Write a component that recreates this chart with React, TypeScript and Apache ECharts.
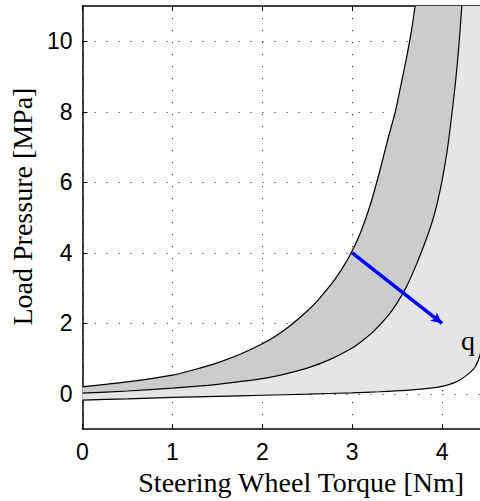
import React, { useEffect, useRef } from 'react';
import * as echarts from 'echarts';

const xTicks = [0, 1, 2, 3, 4];
const yTicks = [0, 2, 4, 6, 8, 10];

const upperCurve: number[][] = [
  [0, 0.2], [0.5, 0.34], [1, 0.53], [1.25, 0.69], [1.5, 0.88], [1.76, 1.13], [2, 1.42],
  [2.15, 1.64], [2.31, 1.93], [2.5, 2.35], [2.6, 2.6], [2.7, 2.9], [2.8, 3.22], [2.9, 3.6],
  [3, 4.05], [3.1, 4.62], [3.2, 5.35], [3.3, 6.25], [3.4, 7.25], [3.48, 8.0], [3.55, 8.85],
  [3.61, 9.6], [3.66, 10.3], [3.7, 11],
];
const middleCurve: number[][] = [
  [0, 0.02], [0.5, 0.08], [1, 0.16], [1.5, 0.27], [2, 0.43], [2.25, 0.56], [2.5, 0.73],
  [2.75, 0.97], [3, 1.3], [3.12, 1.52], [3.24, 1.78], [3.4, 2.22], [3.5, 2.58], [3.6, 3.02],
  [3.7, 3.58], [3.8, 4.22], [3.9, 4.96], [3.95, 5.45], [4.0, 6.05], [4.06, 6.95], [4.11, 7.95],
  [4.15, 8.85], [4.18, 9.65], [4.2, 10.3], [4.22, 11],
];
const lowerCurve: number[][] = [
  [0, -0.18], [0.5, -0.14], [1, -0.1], [1.5, -0.07], [2, -0.04], [2.5, -0.01], [3, 0.03],
  [3.3, 0.06], [3.6, 0.1], [3.87, 0.16], [4, 0.21], [4.13, 0.31], [4.22, 0.43], [4.3, 0.58],
  [4.37, 0.77], [4.42, 1.08], [4.46, 1.6], [4.49, 2.6], [4.51, 5], [4.53, 11],
];
const arrowStart = [3, 4];
const arrowEnd = [4, 2];
const qLabelPos = [4.29, 1.5];

export default function App() {
  const ref = useRef<HTMLDivElement>(null);
  useEffect(() => {
    document.documentElement.style.overflow = 'hidden';
    document.body.style.margin = '0';
    document.body.style.overflow = 'hidden';
    const chart = echarts.init(ref.current!, null, { renderer: 'svg' });
    const serif = '"Liberation Serif", "Times New Roman", serif';
    const sans = '"Liberation Sans", Arial, sans-serif';
    const regions = [
      { points: [...upperCurve, ...middleCurve.slice().reverse()], color: '#cccccc' },
      { points: [...middleCurve, ...lowerCurve.slice().reverse()], color: '#e5e5e5' },
    ];
    const gridLine = { show: true, lineStyle: { color: '#333', width: 1, type: [1.2, 10.8] } };
    const curveSeries = (name: string, data: number[][]) => ({
      name,
      type: 'line',
      data,
      symbol: 'none',
      clip: true,
      smooth: 0.2,
      silent: true,
      z: 3,
      lineStyle: { color: '#000', width: 1.2 },
    });
    const option: any = {
      animation: false,
      grid: { left: 82, top: 6, width: 405, height: 425 },
      xAxis: [
        {
          type: 'value', min: 0, max: 4.5, position: 'bottom',
          name: 'Steering Wheel Torque [Nm]', nameLocation: 'middle', nameGap: 34,
          nameTextStyle: { fontFamily: serif, fontSize: 28, color: '#000', padding: [0, 0, 0, 33] },
          axisLine: { show: true, onZero: false, lineStyle: { color: '#000', width: 1.5 } },
          axisTick: { show: true, inside: true, length: 5, customValues: xTicks, lineStyle: { color: '#000' } },
          axisLabel: { show: true, customValues: xTicks, margin: 11, fontFamily: sans, fontSize: 23, color: '#000' },
          splitLine: gridLine,
        },
        {
          type: 'value', min: 0, max: 4.5, position: 'top',
          axisLine: { show: true, onZero: false, lineStyle: { color: '#000', width: 1.5 } },
          axisTick: { show: true, inside: true, length: 5, customValues: xTicks, lineStyle: { color: '#000' } },
          axisLabel: { show: false },
          splitLine: { show: false },
        },
      ],
      yAxis: {
        type: 'value', min: -1, max: 11,
        name: 'Load Pressure [MPa]', nameLocation: 'middle', nameGap: 46, nameRotate: 90,
        nameTextStyle: { fontFamily: serif, fontSize: 28, color: '#000', padding: [0, 0, 0, 22] },
        axisLine: { show: true, onZero: false, lineStyle: { color: '#000', width: 1.5 } },
        axisTick: { show: true, inside: true, length: 5, customValues: yTicks, lineStyle: { color: '#000' } },
        axisLabel: { show: true, customValues: yTicks, margin: 10, fontFamily: sans, fontSize: 23, color: '#000' },
        splitLine: gridLine,
      },
      series: [
        {
          type: 'custom',
          clip: true,
          silent: true,
          z: 1,
          data: [[0, 0], [1, 0]],
          renderItem: (params: any, api: any) => {
            const r = regions[params.dataIndex];
            return {
              type: 'polygon',
              shape: { points: r.points.map((p) => api.coord(p)) },
              style: { fill: r.color, stroke: r.color, lineWidth: 0.5 },
            };
          },
        },
        curveSeries('upper', upperCurve),
        curveSeries('middle', middleCurve),
        curveSeries('lower', lowerCurve),
        {
          name: 'q',
          type: 'line',
          data: [],
          symbol: 'none',
          silent: true,
          z: 5,
          markLine: {
            silent: true,
            animation: false,
            symbol: ['none', 'arrow'],
            symbolSize: [8, 11],
            label: { show: false },
            lineStyle: { color: '#0000ff', width: 3.5, type: 'solid' },
            data: [[{ coord: arrowStart }, { coord: arrowEnd }]],
          },
          markPoint: {
            silent: true,
            symbol: 'circle',
            symbolSize: 0,
            label: { show: true, position: 'inside', formatter: 'q', fontFamily: serif, fontSize: 28, color: '#000' },
            data: [{ coord: qLabelPos }],
          },
        },
      ],
    };
    chart.setOption(option);
    return () => chart.dispose();
  }, []);
  return <div ref={ref} style={{ width: 490, height: 501 }} />;
}
